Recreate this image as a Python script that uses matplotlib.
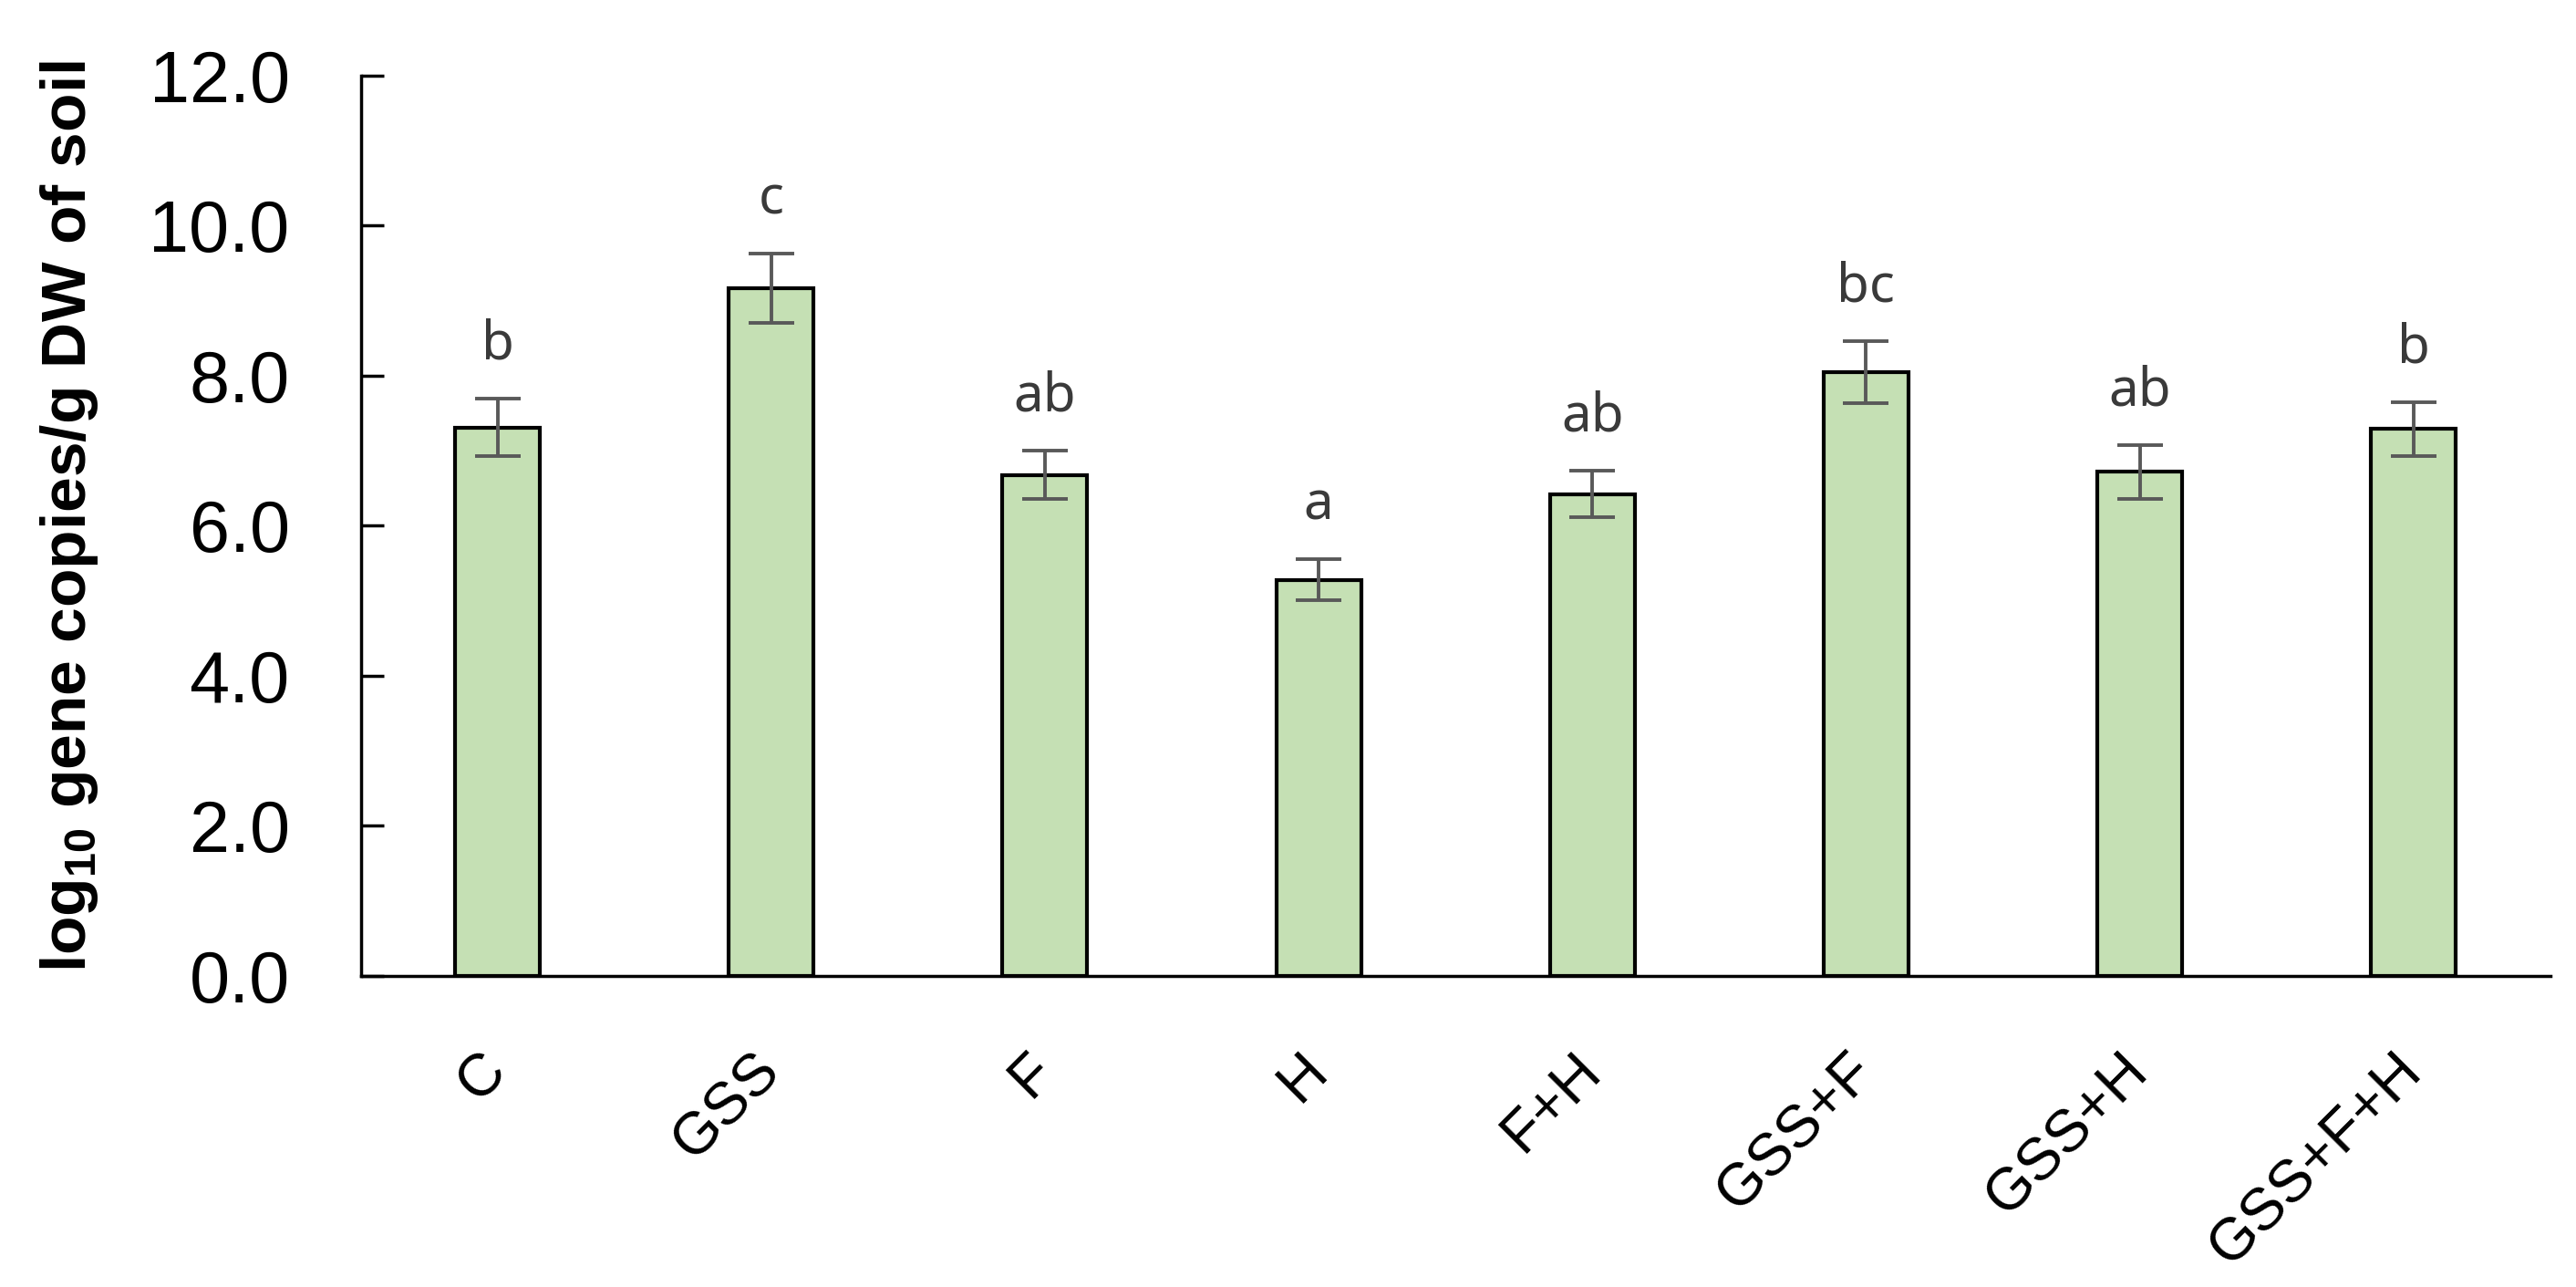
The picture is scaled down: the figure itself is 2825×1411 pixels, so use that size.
import numpy as np
import matplotlib
matplotlib.use("Agg")
import matplotlib.pyplot as plt


# Treatments and measured values (log10 gene copies / g DW of soil)
TREATMENTS = ["C", "GSS", "F", "H", "F+H", "GSS+F", "GSS+H", "GSS+F+H"]
MEANS = [7.31, 9.17, 6.68, 5.28, 6.42, 8.05, 6.72, 7.29]
ERRORS = [0.38, 0.46, 0.32, 0.27, 0.31, 0.41, 0.36, 0.36]
LETTERS = ["b", "c", "ab", "a", "ab", "bc", "ab", "b"]
Y_TICKS = [0.0, 2.0, 4.0, 6.0, 8.0, 10.0, 12.0]

BAR_COLOR = "#c5e0b4"
ERR_COLOR = "#595959"
LETTER_COLOR = "#3a3a3a"

plt.rcParams['mathtext.fontset'] = 'custom'
plt.rcParams['mathtext.rm'] = 'Liberation Sans'
plt.rcParams['mathtext.bf'] = 'Liberation Sans:bold'


def main():
    fig = plt.figure(figsize=(28.25, 14.11), dpi=100)
    ax = fig.add_axes([0.140, 0.2417, 0.850, 0.6995])

    x = np.arange(len(TREATMENTS))
    ax.bar(x, MEANS, width=0.31, color=BAR_COLOR, edgecolor="black",
           linewidth=3, zorder=2)
    ax.errorbar(x, MEANS, yerr=ERRORS, fmt="none", ecolor=ERR_COLOR,
                elinewidth=2.8, capsize=18, capthick=2.8, zorder=3)

    # significance letters above the error bars
    for xi, m, e, letter in zip(x, MEANS, ERRORS, LETTERS):
        ax.text(xi, m + e + 0.53, letter, ha="center", va="baseline",
                fontsize=42, color=LETTER_COLOR, family="Noto Sans")

    ax.set_xlim(-0.5, len(TREATMENTS) - 0.5)
    ax.set_ylim(0, 12)
    ax.set_yticks(Y_TICKS)
    ax.set_yticklabels(["{:.1f}".format(v) for v in Y_TICKS],
                       family="Liberation Sans", fontsize=57)
    ax.tick_params(axis="y", direction="in", length=18, width=2.5, pad=56)

    ax.set_xticks(x)
    ax.set_xticklabels(TREATMENTS, rotation=45, ha="right", va="center",
                       rotation_mode="anchor", family="Liberation Sans",
                       fontsize=47)
    ax.tick_params(axis="x", length=0, pad=68)

    for side in ["top", "right"]:
        ax.spines[side].set_visible(False)
    for side in ["left", "bottom"]:
        ax.spines[side].set_linewidth(2.5)

    ax.set_ylabel(r"log$_{\mathregular{10}}$ gene copies/g DW of soil",
                  family="Liberation Sans", fontweight="bold", fontsize=50)
    ax.yaxis.set_label_coords(-0.119, 0.51)

    fig.savefig("out.png", dpi=100)


main()
